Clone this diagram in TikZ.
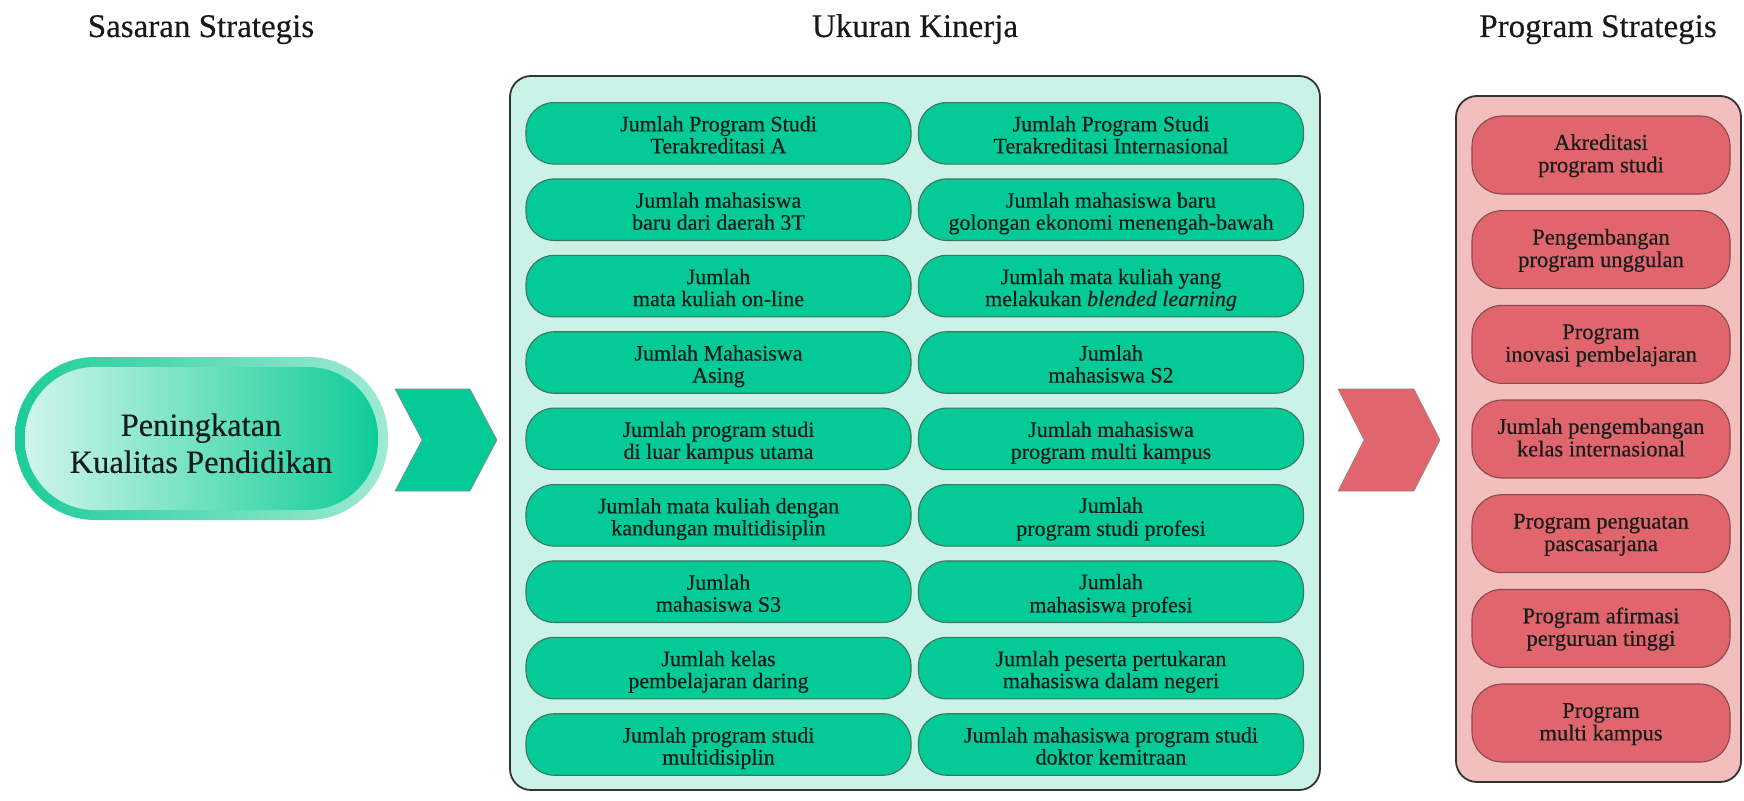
\documentclass[tikz,border=0pt]{standalone}
\usepackage{fontspec}
\setmainfont{Liberation Serif}[FakeBold=0.35]
\definecolor{gfill}{RGB}{4,202,152}
\definecolor{gline}{RGB}{62,118,98}
\definecolor{mint}{RGB}{203,242,230}
\definecolor{rfill}{RGB}{224,101,109}
\definecolor{rline}{RGB}{140,72,76}
\definecolor{rose}{RGB}{242,190,190}
\definecolor{txt}{RGB}{22,28,26}
\definecolor{ringL}{RGB}{28,204,153}
\definecolor{ringR}{RGB}{160,234,211}
\definecolor{goalL}{RGB}{208,245,234}
\definecolor{goalR}{RGB}{14,204,152}
% two strut-balanced lines of a pill label
\newcommand\pl[2]{\strut#1\\\strut#2}
\begin{document}
\begin{tikzpicture}[x=1pt,y=-1pt,
  title/.style={font=\fontsize{33}{36}\selectfont, text=black!90, anchor=base},
  panel/.style={rounded corners=21pt, line width=1.8pt, draw=black!80, inner sep=0pt},
  gpill/.style={draw=gline, line width=1.1pt, fill=gfill, rounded corners=28pt,
    minimum width=385pt, minimum height=61.5pt, inner sep=0pt},
  gtext/.style={font=\fontsize{22}{22}\selectfont, align=center, text=txt, inner sep=0pt},
  rpill/.style={draw=rline, line width=1.1pt, fill=rfill, rounded corners=30pt,
    minimum width=258pt, minimum height=78pt, inner sep=0pt},
  rtext/.style={font=\fontsize{22.5}{22.5}\selectfont, align=center, text=txt, inner sep=0pt},
  chev/.style={draw=black!45, line width=0.6pt}
]
\useasboundingbox (0,0) rectangle (1744,800);

% column headings
\node[title] (h1) at (201,37) {Sasaran Strategis};
\node[title] (h2) at (915,37) {Ukuran Kinerja};
\node[title] (h3) at (1598,37) {Program Strategis};

% strategic goal
\node[minimum width=373pt, minimum height=163pt, rounded corners=80pt,
  left color=ringL, right color=ringR, inner sep=0pt] (goalring) at (201.5,438.5) {};
\node[minimum width=353pt, minimum height=143pt, rounded corners=70pt,
  left color=goalL, right color=goalR, inner sep=0pt] (goal) at (goalring.center) {};
\node[font=\fontsize{32.5}{37}\selectfont, align=center, text=txt, inner sep=0pt]
  (goal-t) at (201,447) {\strut Peningkatan\\\strut Kualitas Pendidikan};

% chevrons
\draw[chev, fill=gfill] (395,389) -- (470,389) -- (497,440) -- (470,491) -- (395,491) -- (422,440) -- cycle;
\draw[chev, fill=rfill] (1338,389) -- (1414,389) -- (1440,440) -- (1414,491) -- (1338,491) -- (1364,440) -- cycle;

% panels
\node[panel, fill=mint, minimum width=810pt, minimum height=714pt] (measures) at (915,433) {};
\node[panel, fill=rose, minimum width=285pt, minimum height=686pt] (programs) at (1598.5,439) {};

% performance measures, left column
\foreach \t [count=\i] in {
  {\pl{Jumlah Program Studi}{Terakreditasi A}},
  {\pl{Jumlah mahasiswa}{baru dari daerah 3T}},
  {\pl{Jumlah}{mata kuliah on-line}},
  {\pl{Jumlah Mahasiswa}{Asing}},
  {\pl{Jumlah program studi}{di luar kampus utama}},
  {\pl{Jumlah mata kuliah dengan}{kandungan multidisiplin}},
  {\pl{Jumlah}{mahasiswa S3}},
  {\pl{Jumlah kelas}{pembelajaran daring}},
  {\pl{Jumlah program studi}{multidisiplin}}}{
  \node[gpill] (L\i) at (718.5,{133.3+76.4*(\i-1)}) {};
  \node[gtext] (L\i-t) at ([yshift=-4.6pt]L\i.center) {\t};
}

% performance measures, right column
\foreach \t [count=\i] in {
  {\pl{Jumlah Program Studi}{Terakreditasi Internasional}},
  {\pl{Jumlah mahasiswa baru}{golongan ekonomi menengah-bawah}},
  {\pl{Jumlah mata kuliah yang}{melakukan \textit{blended learning}}},
  {\pl{Jumlah}{mahasiswa S2}},
  {\pl{Jumlah mahasiswa}{program multi kampus}},
  {\pl{Jumlah}{program studi profesi}},
  {\pl{Jumlah}{mahasiswa profesi}},
  {\pl{Jumlah peserta pertukaran}{mahasiswa dalam negeri}},
  {\pl{Jumlah mahasiswa program studi}{doktor kemitraan}}}{
  \node[gpill] (R\i) at (1111,{133.3+76.4*(\i-1)}) {};
  \node[gtext] (R\i-t) at ([yshift=-4.6pt]R\i.center) {\t};
}

% strategic programmes
\foreach \t [count=\i] in {
  {\pl{Akreditasi}{program studi}},
  {\pl{Pengembangan}{program unggulan}},
  {\pl{Program}{inovasi pembelajaran}},
  {\pl{Jumlah pengembangan}{kelas internasional}},
  {\pl{Program penguatan}{pascasarjana}},
  {\pl{Program afirmasi}{perguruan tinggi}},
  {\pl{Program}{multi kampus}}}{
  \node[rpill] (P\i) at (1601,{155+94.67*(\i-1)}) {};
  \node[rtext] (P\i-t) at ([yshift=-1.6pt]P\i.center) {\t};
}
\end{tikzpicture}
\end{document}
